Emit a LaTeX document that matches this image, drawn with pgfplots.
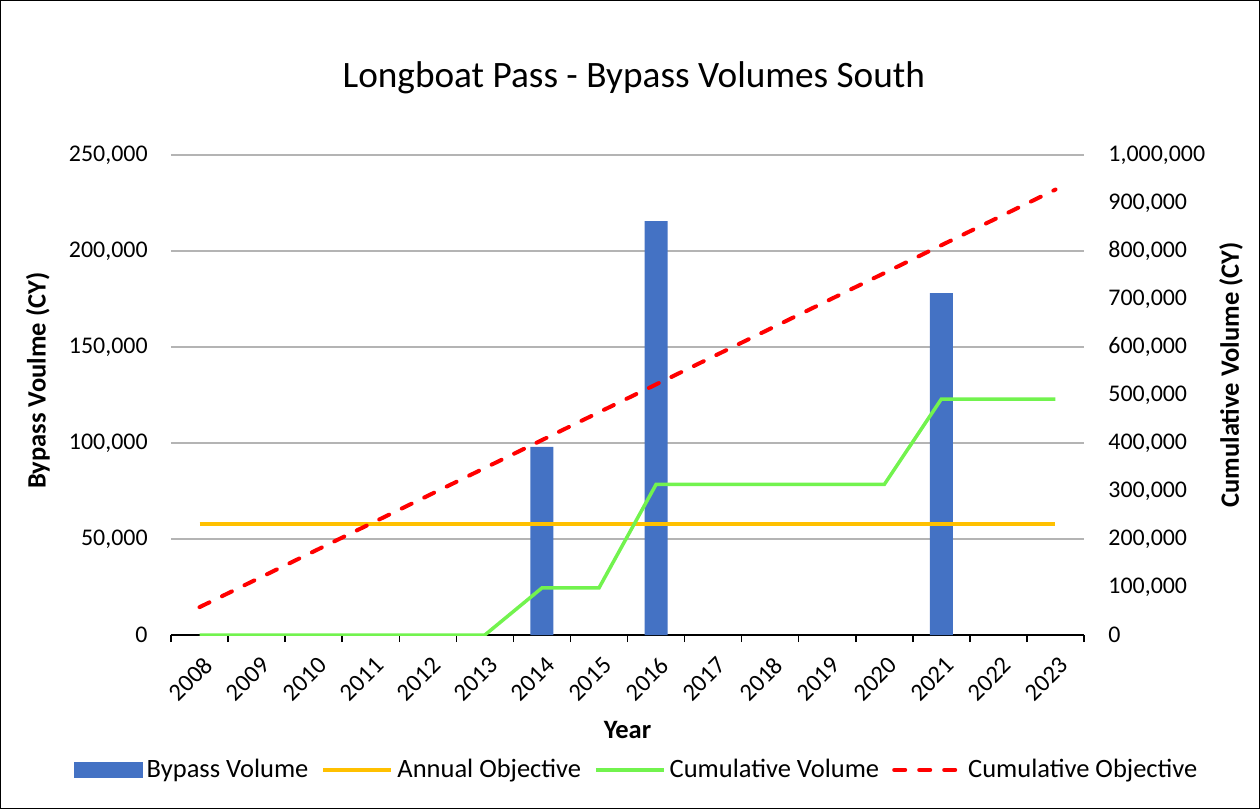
\documentclass[border=0pt]{standalone}
\usepackage{fontspec}
\setmainfont{Carlito}
\usepackage{pgfplots}
\pgfplotsset{compat=1.18}
\definecolor{barblue}{HTML}{4472C4}
\definecolor{objorange}{HTML}{FFC000}
\definecolor{cumgreen}{HTML}{72F34E}
\definecolor{gridgray}{HTML}{B4B4B4}
\pgfplotsset{
  mylinelegend/.style={legend image code/.code={\draw[##1] (0bp,0bp) -- (34bp,0bp);}},
  mybarlegend/.style={legend image code/.code={\fill[##1] (0bp,-4bp) rectangle (34.5bp,4bp);}},
}
\begin{document}
\begin{tikzpicture}
\draw[black, line width=0.75bp] (-85.125bp,-86.625bp) rectangle (544.125bp,317.125bp);
\begin{axis}[
  at={(0,0)}, anchor=south west, scale only axis,
  width=456.5bp, height=240bp,
  xmin=-0.5, xmax=15.5, ymin=0, ymax=250000,
  axis x line*=bottom, axis y line*=left,
  y axis line style={draw=none},
  x axis line style={black, line width=0.75bp, -},
  xtick={0,...,15},
  xticklabels={2008,2009,2010,2011,2012,2013,2014,2015,2016,2017,2018,2019,2020,2021,2022,2023},
  major tick length=0pt,
  minor xtick={-0.5,0.5,...,15.5},
  minor x tick style={black, line width=0.75bp},
  tick align=outside, minor tick length=3.5bp,
  xticklabel style={rotate=45, anchor=east, inner sep=0pt, font=\fontsize{12.3}{14}\selectfont, yshift=-12.4bp, xshift=-6.1bp},
  ytick={0,50000,...,250000},
  ymajorgrids, grid style={gridgray, line width=0.8bp},
  yticklabel style={inner sep=0pt, xshift=-11.5bp, font=\fontsize{12}{14}\selectfont},
  scaled y ticks=false,
  /pgf/number format/fixed,
  /pgf/number format/1000 sep={,},
  /pgf/number format/assume math mode=true,
  xlabel={Year},
  xlabel style={at={(axis description cs:0.5,-0.198)}, anchor=center, font=\bfseries\fontsize{13.3}{16}\selectfont},
  ylabel={Bypass Voulme (CY)},
  ylabel style={at={(axis description cs:-0.1457,0.53)}, anchor=center, rotate=0, font=\bfseries\fontsize{13.3}{16}\selectfont},
  title={Longboat Pass - Bypass Volumes South},
  title style={at={(axis description cs:0.507,1.1355)}, anchor=center, font=\fontsize{18.7}{22}\selectfont},
]
\addplot[ybar, bar width=11.5bp, fill=barblue, draw=none] coordinates {(6,98000) (8,215600) (13,178000)};
\addplot[objorange, line width=2bp] coordinates {(0,58000) (1,58000) (2,58000) (3,58000) (4,58000) (5,58000) (6,58000) (7,58000) (8,58000) (9,58000) (10,58000) (11,58000) (12,58000) (13,58000) (14,58000) (15,58000)};
\end{axis}
\begin{axis}[
  at={(0,0)}, anchor=south west, scale only axis,
  width=456.5bp, height=240bp,
  xmin=-0.5, xmax=15.5, ymin=0, ymax=1000000,
  hide x axis, axis y line*=right,
  y axis line style={draw=none},
  major tick length=0pt,
  ytick={0,100000,...,1000000},
  yticklabel style={anchor=west, inner sep=0pt, xshift=12bp, font=\fontsize{12}{14}\selectfont},
  scaled y ticks=false,
  /pgf/number format/fixed,
  /pgf/number format/1000 sep={,},
  /pgf/number format/assume math mode=true,
  ylabel={Cumulative Volume (CY)},
  ylabel style={at={(axis description cs:1.161,0.542)}, anchor=center, rotate=0, font=\bfseries\fontsize{13.3}{16}\selectfont},
  legend columns=4,
  legend style={at={(0.511,-0.281)}, anchor=center, draw=none, fill=none, font=\fontsize{13.3}{16}\selectfont,
    /tikz/every even column/.append style={column sep=4.5bp}},
]
\addlegendimage{fill=barblue, draw=none, mybarlegend}
\addlegendentry{Bypass Volume}
\addlegendimage{objorange, line width=2bp, mylinelegend}
\addlegendentry{Annual Objective}
\addplot[cumgreen, line width=1.75bp, mylinelegend] coordinates {(0,0) (1,0) (2,0) (3,0) (4,0) (5,0) (6,98000) (7,98000) (8,313600) (9,313600) (10,313600) (11,313600) (12,313600) (13,491600) (14,491600) (15,491600)};
\addlegendentry{Cumulative Volume}
\addplot[red, line width=2bp, dash pattern=on 5.5bp off 7bp, line cap=round, mylinelegend] coordinates {(0,58000) (1,116000) (2,174000) (3,232000) (4,290000) (5,348000) (6,406000) (7,464000) (8,522000) (9,580000) (10,638000) (11,696000) (12,754000) (13,812000) (14,870000) (15,928000)};
\addlegendentry{Cumulative Objective}
\end{axis}
\end{tikzpicture}
\end{document}
